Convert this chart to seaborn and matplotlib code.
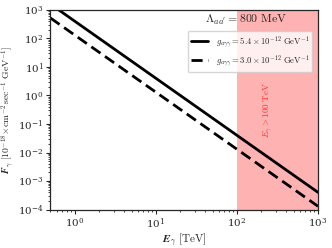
import numpy as np
import pandas as pd
import seaborn as sns
import matplotlib
matplotlib.use("Agg")
import matplotlib.pyplot as plt
from matplotlib.ticker import LogLocator

sns.set_style("ticks")
plt.rcParams['font.family'] = ['serif']
plt.rcParams['font.serif'] = ['DejaVu Serif']
plt.rcParams['mathtext.fontset'] = 'cm'

# Data (endpoints of straight lines in log-log space)
E_vals = [0.5, 1000.0]
F_solid = [1600.0, 4.0e-4]
F_dashed = [520.0, 1.3e-4]
labels = [r'$g_{a\gamma\gamma} = 5.4\times10^{-12}\ \mathrm{GeV}^{-1}$',
          r'$g_{a\gamma\gamma} = 3.0\times10^{-12}\ \mathrm{GeV}^{-1}$']
cut_E = [100.0, 1000.0]

df = pd.DataFrame({
    'E': E_vals + E_vals,
    'F': F_solid + F_dashed,
    'g': [labels[0]] * 2 + [labels[1]] * 2,
})

fig, ax = plt.subplots(figsize=(3.32, 2.48), dpi=100)
fig.subplots_adjust(left=0.152, right=0.958, top=0.96, bottom=0.155)

ax.axvspan(cut_E[0], cut_E[1], color='#ff6666', alpha=0.5, lw=0, zorder=0)

sns.lineplot(data=df, x='E', y='F', hue='g', style='g',
             palette=['black', 'black'], dashes=[(None, None), (4, 2)],
             lw=2, ax=ax)
ax.set_xscale('log')
ax.set_yscale('log')
ax.set_xlim(0.5, 1000)
ax.set_ylim(1e-4, 1e3)

ax.set_xlabel(r'$\boldsymbol{E}_\gamma\ [\mathrm{TeV}]$', fontsize=8, labelpad=0)
ax.set_ylabel(r'$\boldsymbol{F}_\gamma\ [10^{-18}{\times}\mathrm{cm}^{-2}\,\mathrm{sec}^{-1}\ \mathrm{GeV}^{-1}]$',
              fontsize=7, labelpad=1)
ax.tick_params(labelsize=7.5, length=3, width=0.8, pad=2)
ax.tick_params(which='minor', length=1.5, width=0.6)
ax.yaxis.set_major_locator(LogLocator(base=10, numticks=20))

ax.text(0.73, 0.95, r"$\Lambda_{aa'} = 800\ \mathrm{MeV}$", transform=ax.transAxes,
        ha='center', va='center', fontsize=8.5)
ax.text(240, 0.3, r'$E_\gamma > 100\ \mathrm{TeV}$', rotation=90, color='#ff3333',
        ha='center', va='center', fontsize=6.5)

leg = ax.legend(loc='upper right', bbox_to_anchor=(0.995, 0.915), fontsize=6.2,
                frameon=True, handlelength=2.0, borderpad=0.35, labelspacing=0.3,
                handletextpad=0.9, title=None)
for spine in ax.spines.values():
    spine.set_linewidth(0.9)

fig.savefig('out.png', dpi=100)
